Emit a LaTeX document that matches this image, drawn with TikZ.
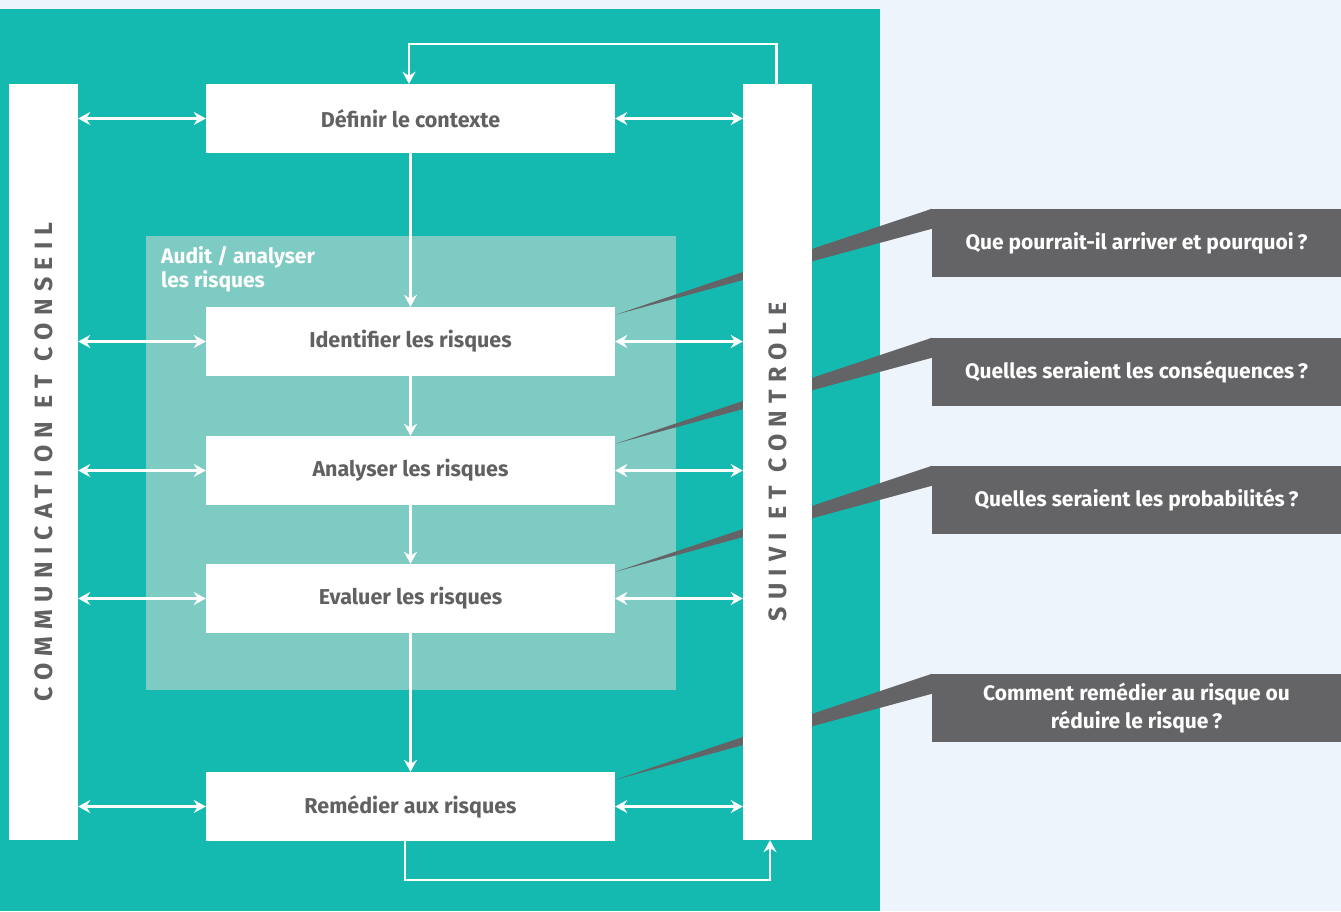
\documentclass[tikz,border=0pt]{standalone}
\usepackage{fontspec}
\setmainfont{Fira Sans}
\usetikzlibrary{positioning,arrows.meta,calc,backgrounds}

\definecolor{teal}{HTML}{14BAB0}
\definecolor{auditteal}{HTML}{7ECBC3}
\definecolor{pagebg}{HTML}{EEF4FB}
\definecolor{textgray}{HTML}{616163}
\definecolor{callgray}{HTML}{646466}

\tikzset{
  stepbox/.style={fill=white, minimum width=409pt, minimum height=69pt, inner sep=0pt,
    text=textgray, font=\bfseries\fontsize{21.5}{24}\selectfont},
  sidebar/.style={fill=white, minimum width=69pt, minimum height=756pt, inner sep=0pt},
  barlabel/.style={rotate=90, text=textgray,
    font=\bfseries\fontsize{25}{28}\selectfont\addfontfeature{LetterSpace=29}},
  callout/.style={fill=callgray, minimum width=409pt, minimum height=68pt, inner sep=0pt,
    text=white, align=center, font=\bfseries\fontsize{21}{28.5}\selectfont},
  dbl/.style={white, line width=2.4pt, {Stealth[length=12pt,width=13pt,inset=4pt]}-{Stealth[length=12pt,width=13pt,inset=4pt]}},
  flow/.style={white, line width=2.4pt, -{Stealth[length=12pt,width=13pt,inset=4pt]}},
}

\begin{document}
\begin{tikzpicture}[x=1pt, y=-1pt]
\useasboundingbox (0,0) rectangle (1341,911);

% side bars
\node[sidebar] (comm) at (43.5,462) {};
\node[sidebar] (suivi) at (777.5,462) {};
\node[barlabel] at (comm) {COMMUNICATION ET CONSEIL};
\node[barlabel] at (suivi) {SUIVI ET CONTROLE};

% steps
\node[stepbox] (contexte) at (410.5,118.5) {Définir le contexte};
\node[stepbox] (identifier) at (410.5,341.5) {Identifier les risques};
\node[stepbox] (analyser) at (410.5,470.5) {Analyser les risques};
\node[stepbox] (evaluer) at (410.5,598.5) {Evaluer les risques};
\node[stepbox] (remedier) at (410.5,806.5) {Remédier aux risques};

\node[anchor=north west, align=left, text=white, inner sep=0pt,
  font=\bfseries\fontsize{21}{24}\selectfont] (audit) at (161,246) {Audit / analyser\\les risques};

% questions
\node[callout] (q1) at (1136.5,243) {Que pourrait-il arriver et pourquoi\,?};
\node[callout] (q2) at (1136.5,372) {Quelles seraient les conséquences\,?};
\node[callout] (q3) at (1136.5,500) {Quelles seraient les probabilités\,?};
\node[callout] (q4) at (1136.5,708) {Comment remédier au risque ou\\réduire le risque\,?};

% arrows
\draw[flow] (contexte) -- (identifier);
\draw[flow] (identifier) -- (analyser);
\draw[flow] (analyser) -- (evaluer);
\draw[flow] (evaluer) -- (remedier);
\foreach \s in {contexte,identifier,analyser,evaluer,remedier} {
  \draw[dbl] (comm.east |- \s.west) -- (\s.west);
  \draw[dbl] (\s.east) -- (suivi.west |- \s.east);
}
\draw[flow] ([xshift=-1pt]suivi.north) -- ++(0,-40) -| ([xshift=-1.5pt]contexte.north);
\draw[flow] ([xshift=-5.5pt]remedier.south) -- ++(0,39) -| ([xshift=-7.5pt]suivi.south);

\begin{scope}[on background layer]
\fill[pagebg] (0,0) rectangle (1341,911);
\fill[teal] (0,9) rectangle (880,911);
\fill[auditteal] (146,236) rectangle (676,690);
\foreach \q/\s in {q1/identifier,q2/analyser,q3/evaluer,q4/remedier}
  \fill[callgray] (\q.north west) -- ($(\q.north west)+(0,20)$) -- ($(\s.north east)+(0,8)$) -- cycle;
\end{scope}
\end{tikzpicture}
\end{document}
